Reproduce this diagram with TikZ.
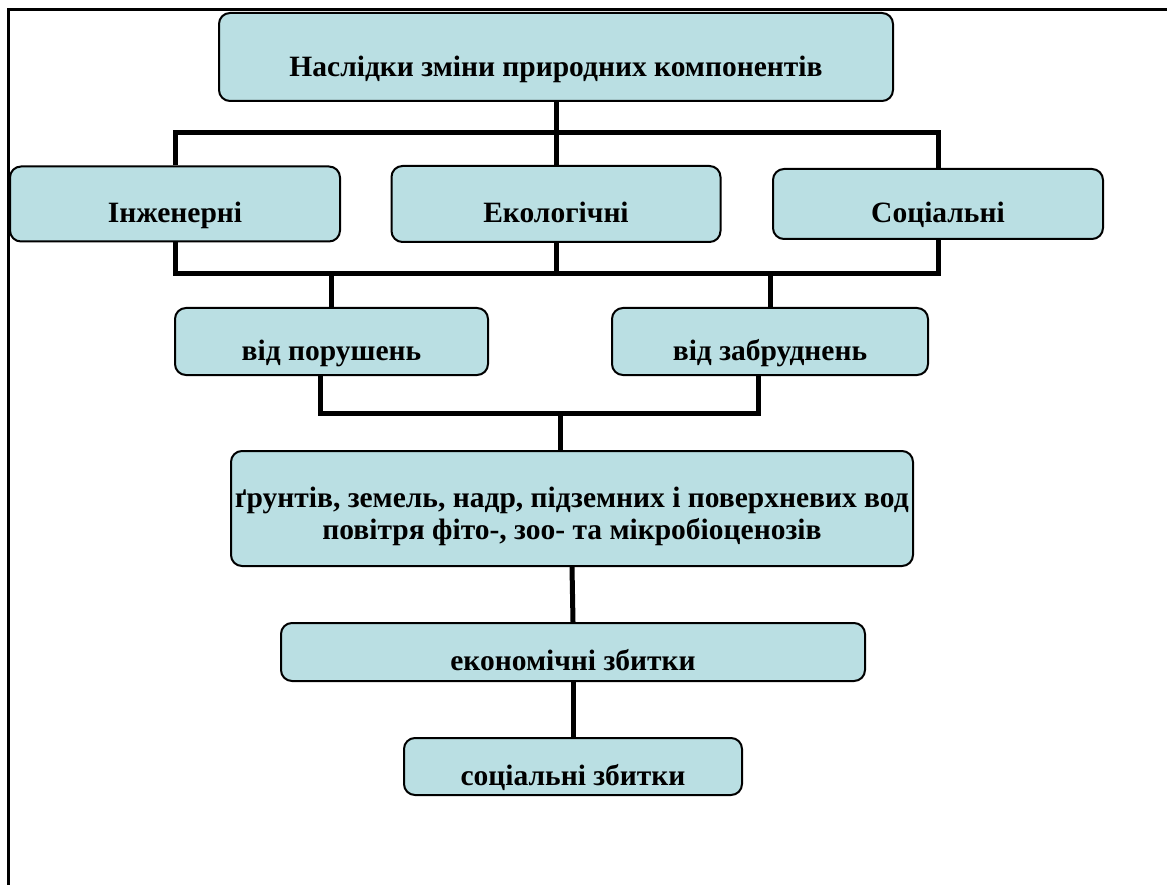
\documentclass[tikz,border=0pt]{standalone}
\usepackage{fontspec}
\setmainfont{Liberation Serif}
\definecolor{boxfill}{RGB}{186,223,227}
\begin{document}
\begin{tikzpicture}[x=1pt,y=1pt,
  box/.style={draw=black, line width=2pt, fill=boxfill, rounded corners=11pt,
    inner sep=0pt, align=center, text height=37pt, text depth=0pt,
    font=\fontsize{29.5}{32}\selectfont\bfseries},
  plainbox/.style={draw=black, line width=2pt, fill=boxfill, rounded corners=11pt, inner sep=0pt},
  boxtext/.style={inner sep=0pt, align=center, font=\fontsize{29.5}{32}\selectfont\bfseries},
  conn/.style={draw=black, line width=5pt},
  frame/.style={draw=black, line width=3pt}]
\useasboundingbox (0,0) rectangle (1167,-885);
% frame
\coordinate (fl) at (8,-885);
\coordinate (fc) at (8,-10);
\coordinate (fr) at (1167,-10);
\draw[frame] (fl) -- (fc) -- (fr);
% nodes
\node[box, text height=40pt, minimum width=674pt, minimum height=88pt] (top) at (556,-57) {Наслідки зміни природних компонентів};
\node[box, minimum width=330pt, minimum height=75pt] (ing) at (175,-204) {Інженерні};
\node[box, minimum width=329pt, minimum height=76pt] (eco) at (556,-204) {Екологічні};
\node[box, minimum width=330pt, minimum height=70pt] (soc) at (938,-204) {Соціальні};
\node[box, minimum width=313pt, minimum height=67pt] (por) at (331.5,-341.5) {від порушень};
\node[box, minimum width=316pt, minimum height=67pt] (zab) at (770,-341.5) {від забруднень};
\node[plainbox, minimum width=682pt, minimum height=115pt] (grunt) at (572,-508.5) {};
\node[boxtext] (gruntt) at ([yshift=-8pt]grunt.center) {ґрунтів, земель, надр, підземних і поверхневих вод\\повітря фіто-, зоо- та мікробіоценозів};
\node[box, minimum width=584pt, minimum height=58pt] (ekon) at (573,-652) {економічні збитки};
\node[box, minimum width=338pt, minimum height=57pt] (soc2) at (573,-766.5) {соціальні збитки};
% connectors
\coordinate (ub) at (556,-133);
\coordinate (lb) at (556,-274);
\coordinate (mb) at (560,-413);
\draw[conn] (top.south) -- (eco.north);
\draw[conn] (ing.north) |- (ub) -| (soc.north);
\draw[conn] (ing.south) |- (lb) -| (soc.south);
\draw[conn] (eco.south) -- (lb);
\draw[conn] (por.north) -- (por.north |- lb);
\draw[conn] (zab.north) -- (zab.north |- lb);
\draw[conn] ([xshift=-11pt]por.south) |- (mb);
\draw[conn] ([xshift=-12pt]zab.south) |- (mb);
\draw[conn] (mb) -- (mb |- grunt.north);
\draw[conn] (grunt.south) -- (ekon.north);
\draw[conn] (ekon.south) -- (soc2.north);
\end{tikzpicture}
\end{document}
